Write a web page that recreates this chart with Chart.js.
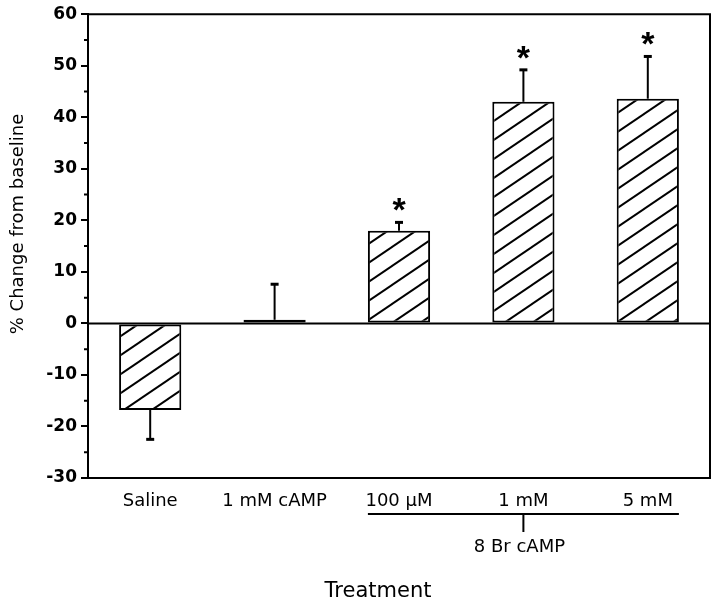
<!DOCTYPE html>
<html>
<head>
<meta charset="utf-8">
<script src="https://cdn.jsdelivr.net/npm/chart.js@4/dist/chart.umd.min.js"></script>
<style>
  html, body { margin: 0; padding: 0; background: #fff; }
  #wrap { width: 720px; height: 607px; position: relative; }
</style>
</head>
<body>
<div id="wrap"><canvas id="chart"></canvas></div>
<script>
// Treatments and % change from baseline (mean, SEM)
const categories = ["Saline", "1 mM cAMP", "100 µM", "1 mM", "5 mM"];
const meanChange = [-16.8, 0.7, 18.0, 43.0, 43.6];
const semChange = [5.7, 6.9, 1.6, 6.2, 8.2];
const significant = [false, false, true, true, true];

// Axis ticks
const yMajorTicks = [-30, -20, -10, 0, 10, 20, 30, 40, 50, 60];
const yMinorTicks = [-25, -15, -5, 5, 15, 25, 35, 45, 55];

// Bracket under the 8 Br cAMP doses
const groupLabel = "8 Br cAMP";
const groupFirst = 2, groupLast = 4, groupMid = 3;

const SANS = "'Liberation Sans', Arial, Helvetica, sans-serif";
const WIDE = "'DejaVu Sans', sans-serif";

const canvas = document.getElementById("chart");
const ctx = canvas.getContext("2d");

// diagonal hatch fill
function makeHatch() {
  const w = 28, h = 19;
  const c = document.createElement("canvas");
  c.width = w; c.height = h;
  const g = c.getContext("2d");
  g.fillStyle = "#fff";
  g.fillRect(0, 0, w, h);
  g.strokeStyle = "#000";
  g.lineWidth = 2;
  for (let n = 0; n <= 2; n++) {
    g.beginPath();
    g.moveTo(-5, h * n + 5 * h / w);
    g.lineTo(w + 5, h * n - (w + 5) * h / w);
    g.stroke();
  }
  return ctx.createPattern(c, "repeat");
}

const extras = {
  id: "extras",
  afterDraw(chart) {
    const { ctx, chartArea: a, scales: { y } } = chart;
    const bars = chart.getDatasetMeta(0).data;
    ctx.save();
    ctx.strokeStyle = "#000";
    ctx.fillStyle = "#000";
    ctx.lineWidth = 2;

    // top + right frame, zero line
    const y0 = y.getPixelForValue(0);
    ctx.beginPath();
    ctx.moveTo(a.left, a.top);
    ctx.lineTo(a.right, a.top);
    ctx.lineTo(a.right, a.bottom);
    ctx.moveTo(a.left, y0);
    ctx.lineTo(a.right, y0);
    ctx.stroke();

    // minor ticks
    ctx.beginPath();
    yMinorTicks.forEach(v => {
      const py = y.getPixelForValue(v);
      ctx.moveTo(a.left - 4, py);
      ctx.lineTo(a.left, py);
    });
    ctx.stroke();

    // error bars + stars
    bars.forEach((bar, i) => {
      const v = meanChange[i];
      const tip = v >= 0 ? v + semChange[i] : v - semChange[i];
      const yv = y.getPixelForValue(v);
      const yt = y.getPixelForValue(tip);
      ctx.lineWidth = 2;
      ctx.beginPath();
      ctx.moveTo(bar.x, yv);
      ctx.lineTo(bar.x, yt);
      ctx.stroke();
      ctx.lineWidth = 3;
      ctx.beginPath();
      ctx.moveTo(bar.x - 4, yt);
      ctx.lineTo(bar.x + 4, yt);
      ctx.stroke();
      if (significant[i]) {
        ctx.font = "bold 34px " + SANS;
        ctx.textAlign = "center";
        ctx.textBaseline = "alphabetic";
        ctx.fillText("*", bar.x, yt - 1);
      }
    });

    // 8 Br cAMP bracket
    const b0 = bars[groupFirst], b1 = bars[groupLast], bm = bars[groupMid];
    const ly = a.bottom + 36;
    ctx.lineWidth = 2;
    ctx.beginPath();
    ctx.moveTo(b0.x - b0.width / 2, ly);
    ctx.lineTo(b1.x + b1.width / 2, ly);
    ctx.moveTo(bm.x, ly);
    ctx.lineTo(bm.x, ly + 18);
    ctx.stroke();
    ctx.font = "18px " + WIDE;
    ctx.textAlign = "center";
    ctx.textBaseline = "middle";
    ctx.fillText(groupLabel, bm.x - 4, ly + 33);

    // axis titles
    ctx.font = "21px " + WIDE;
    ctx.fillText("Treatment", 378, 592);
    ctx.save();
    ctx.translate(18, 224);
    ctx.rotate(-Math.PI / 2);
    ctx.font = "18px " + WIDE;
    ctx.fillText("% Change from baseline", 0, 0);
    ctx.restore();

    ctx.restore();
  }
};

new Chart(canvas, {
  type: "bar",
  data: {
    labels: categories,
    datasets: [{
      data: meanChange,
      backgroundColor: makeHatch(),
      borderColor: "#000",
      borderWidth: 2,
      borderSkipped: false,
      barPercentage: 0.5,
      categoryPercentage: 1.0
    }]
  },
  options: {
    responsive: true,
    maintainAspectRatio: false,
    animation: false,
    layout: { padding: { top: 12, right: 10, left: 0, bottom: 0 } },
    plugins: {
      legend: { display: false },
      tooltip: { enabled: false }
    },
    scales: {
      x: {
        grid: { display: false, drawTicks: false },
        border: { display: true, color: "#000", width: 2 },
        ticks: { color: "#000", font: { family: WIDE, size: 18 }, padding: 13, maxRotation: 0 },
        afterFit: s => { s.height = 129; }
      },
      y: {
        min: -30,
        max: 60,
        afterBuildTicks: s => { s.ticks = yMajorTicks.map(v => ({ value: v })); },
        grid: { drawOnChartArea: false, drawTicks: true, tickLength: 7, color: "#000", lineWidth: 2 },
        border: { display: true, color: "#000", width: 2 },
        ticks: { color: "#000", font: { family: WIDE, size: 17, weight: "bold" }, padding: 4 },
        afterFit: s => { s.width = 88; }
      }
    }
  },
  plugins: [extras]
});
</script>
</body>
</html>
